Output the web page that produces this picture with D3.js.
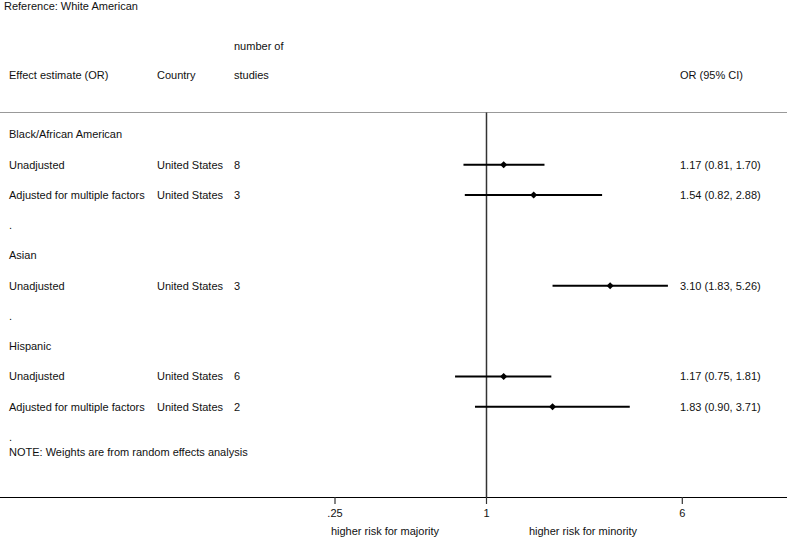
<!DOCTYPE html>
<html>
<head>
<meta charset="utf-8">
<script src="https://cdn.jsdelivr.net/npm/d3@7"></script>
<style>
  body { margin: 0; background: #fff; }
  text { font-family: "Liberation Sans", Arial, Helvetica, sans-serif; font-size: 11px; fill: #111; }
</style>
</head>
<body>
<svg id="chart"></svg>
<script>
var width = 787,
    height = 538;

// one entry per line of the table, top to bottom
var labels    = ["Black/African American", "Unadjusted", "Adjusted for multiple factors", ".",
                 "Asian", "Unadjusted", ".",
                 "Hispanic", "Unadjusted", "Adjusted for multiple factors", "."];
var countries = ["", "United States", "United States", "", "", "United States", "", "", "United States", "United States", ""];
var nStudies  = ["", "8", "3", "", "", "3", "", "", "6", "2", ""];
var orValues  = [null, 1.17, 1.54, null, null, 3.10, null, null, 1.17, 1.83, null];
var ciLow     = [null, 0.81, 0.82, null, null, 1.83, null, null, 0.75, 0.90, null];
var ciHigh    = [null, 1.70, 2.88, null, null, 5.26, null, null, 1.81, 3.71, null];

var tickValues = [0.25, 1, 6];
var tickLabels = [".25", "1", "6"];

var svg = d3.select("#chart").attr("width", width).attr("height", height);

// log scale for the odds ratio
var x = d3.scaleLog().domain([0.25, 6]).range([335, 682.3]);
var y = d3.scaleLinear().domain([0, 10]).range([134.5, 437]);

var fmt = d3.format(".2f");

// header
svg.append("text").attr("x", 4).attr("y", 6).attr("dy", "0.35em").text("Reference: White American");
svg.append("text").attr("x", 234).attr("y", 46).attr("dy", "0.35em").text("number of");
svg.append("text").attr("x", 9).attr("y", 75).attr("dy", "0.35em").text("Effect estimate (OR)");
svg.append("text").attr("x", 157).attr("y", 75).attr("dy", "0.35em").text("Country");
svg.append("text").attr("x", 234).attr("y", 75).attr("dy", "0.35em").text("studies");
svg.append("text").attr("x", 680).attr("y", 75).attr("dy", "0.35em").text("OR (95% CI)");

svg.append("line")
  .attr("x1", 0).attr("x2", width)
  .attr("y1", 112.5).attr("y2", 112.5)
  .attr("stroke", "#999").attr("stroke-width", 1.2);

// null line
svg.append("line")
  .attr("x1", x(1)).attr("x2", x(1))
  .attr("y1", 112.5).attr("y2", 497)
  .attr("stroke", "#333").attr("stroke-width", 1.5);

var rows = svg.append("g").selectAll("g")
  .data(labels.map(function(d, i) {
    return { label: d, country: countries[i], n: nStudies[i], or: orValues[i], lo: ciLow[i], hi: ciHigh[i], i: i };
  }))
  .enter().append("g");

rows.append("text")
  .attr("x", 9).attr("y", function(d) { return y(d.i); }).attr("dy", "0.35em")
  .text(function(d) { return d.label; });
rows.append("text")
  .attr("x", 157).attr("y", function(d) { return y(d.i); }).attr("dy", "0.35em")
  .text(function(d) { return d.country; });
rows.append("text")
  .attr("x", 234).attr("y", function(d) { return y(d.i); }).attr("dy", "0.35em")
  .text(function(d) { return d.n; });

var est = rows.filter(function(d) { return d.or != null; });
est.append("line")
  .attr("x1", function(d) { return x(d.lo); })
  .attr("x2", function(d) { return x(d.hi); })
  .attr("y1", function(d) { return y(d.i); })
  .attr("y2", function(d) { return y(d.i); })
  .attr("stroke", "#000").attr("stroke-width", 2);
est.append("path")
  .attr("d", d3.symbol().type(d3.symbolDiamond2).size(32))
  .attr("transform", function(d) { return "translate(" + x(d.or) + "," + y(d.i) + ")"; })
  .attr("fill", "#000");
est.append("text")
  .attr("x", 680).attr("y", function(d) { return y(d.i); }).attr("dy", "0.35em")
  .text(function(d) { return fmt(d.or) + " (" + fmt(d.lo) + ", " + fmt(d.hi) + ")"; });

svg.append("text").attr("x", 9).attr("y", 452).attr("dy", "0.35em")
  .text("NOTE: Weights are from random effects analysis");

// x axis
svg.append("line")
  .attr("x1", 0).attr("x2", width)
  .attr("y1", 497.5).attr("y2", 497.5)
  .attr("stroke", "#000").attr("stroke-width", 1.2);

var ticks = svg.append("g").selectAll("g")
  .data(tickValues).enter().append("g")
  .attr("transform", function(d) { return "translate(" + x(d) + ",497)"; });
ticks.append("line").attr("y1", 0).attr("y2", 7).attr("stroke", "#333").attr("stroke-width", 1.2);
ticks.append("text").attr("y", 16).attr("dy", "0.35em").attr("text-anchor", "middle")
  .text(function(d, i) { return tickLabels[i]; });

svg.append("text").attr("x", 385).attr("y", 531).attr("dy", "0.35em").attr("text-anchor", "middle")
  .text("higher risk for majority");
svg.append("text").attr("x", 583).attr("y", 531).attr("dy", "0.35em").attr("text-anchor", "middle")
  .text("higher risk for minority");
</script>
</body>
</html>
